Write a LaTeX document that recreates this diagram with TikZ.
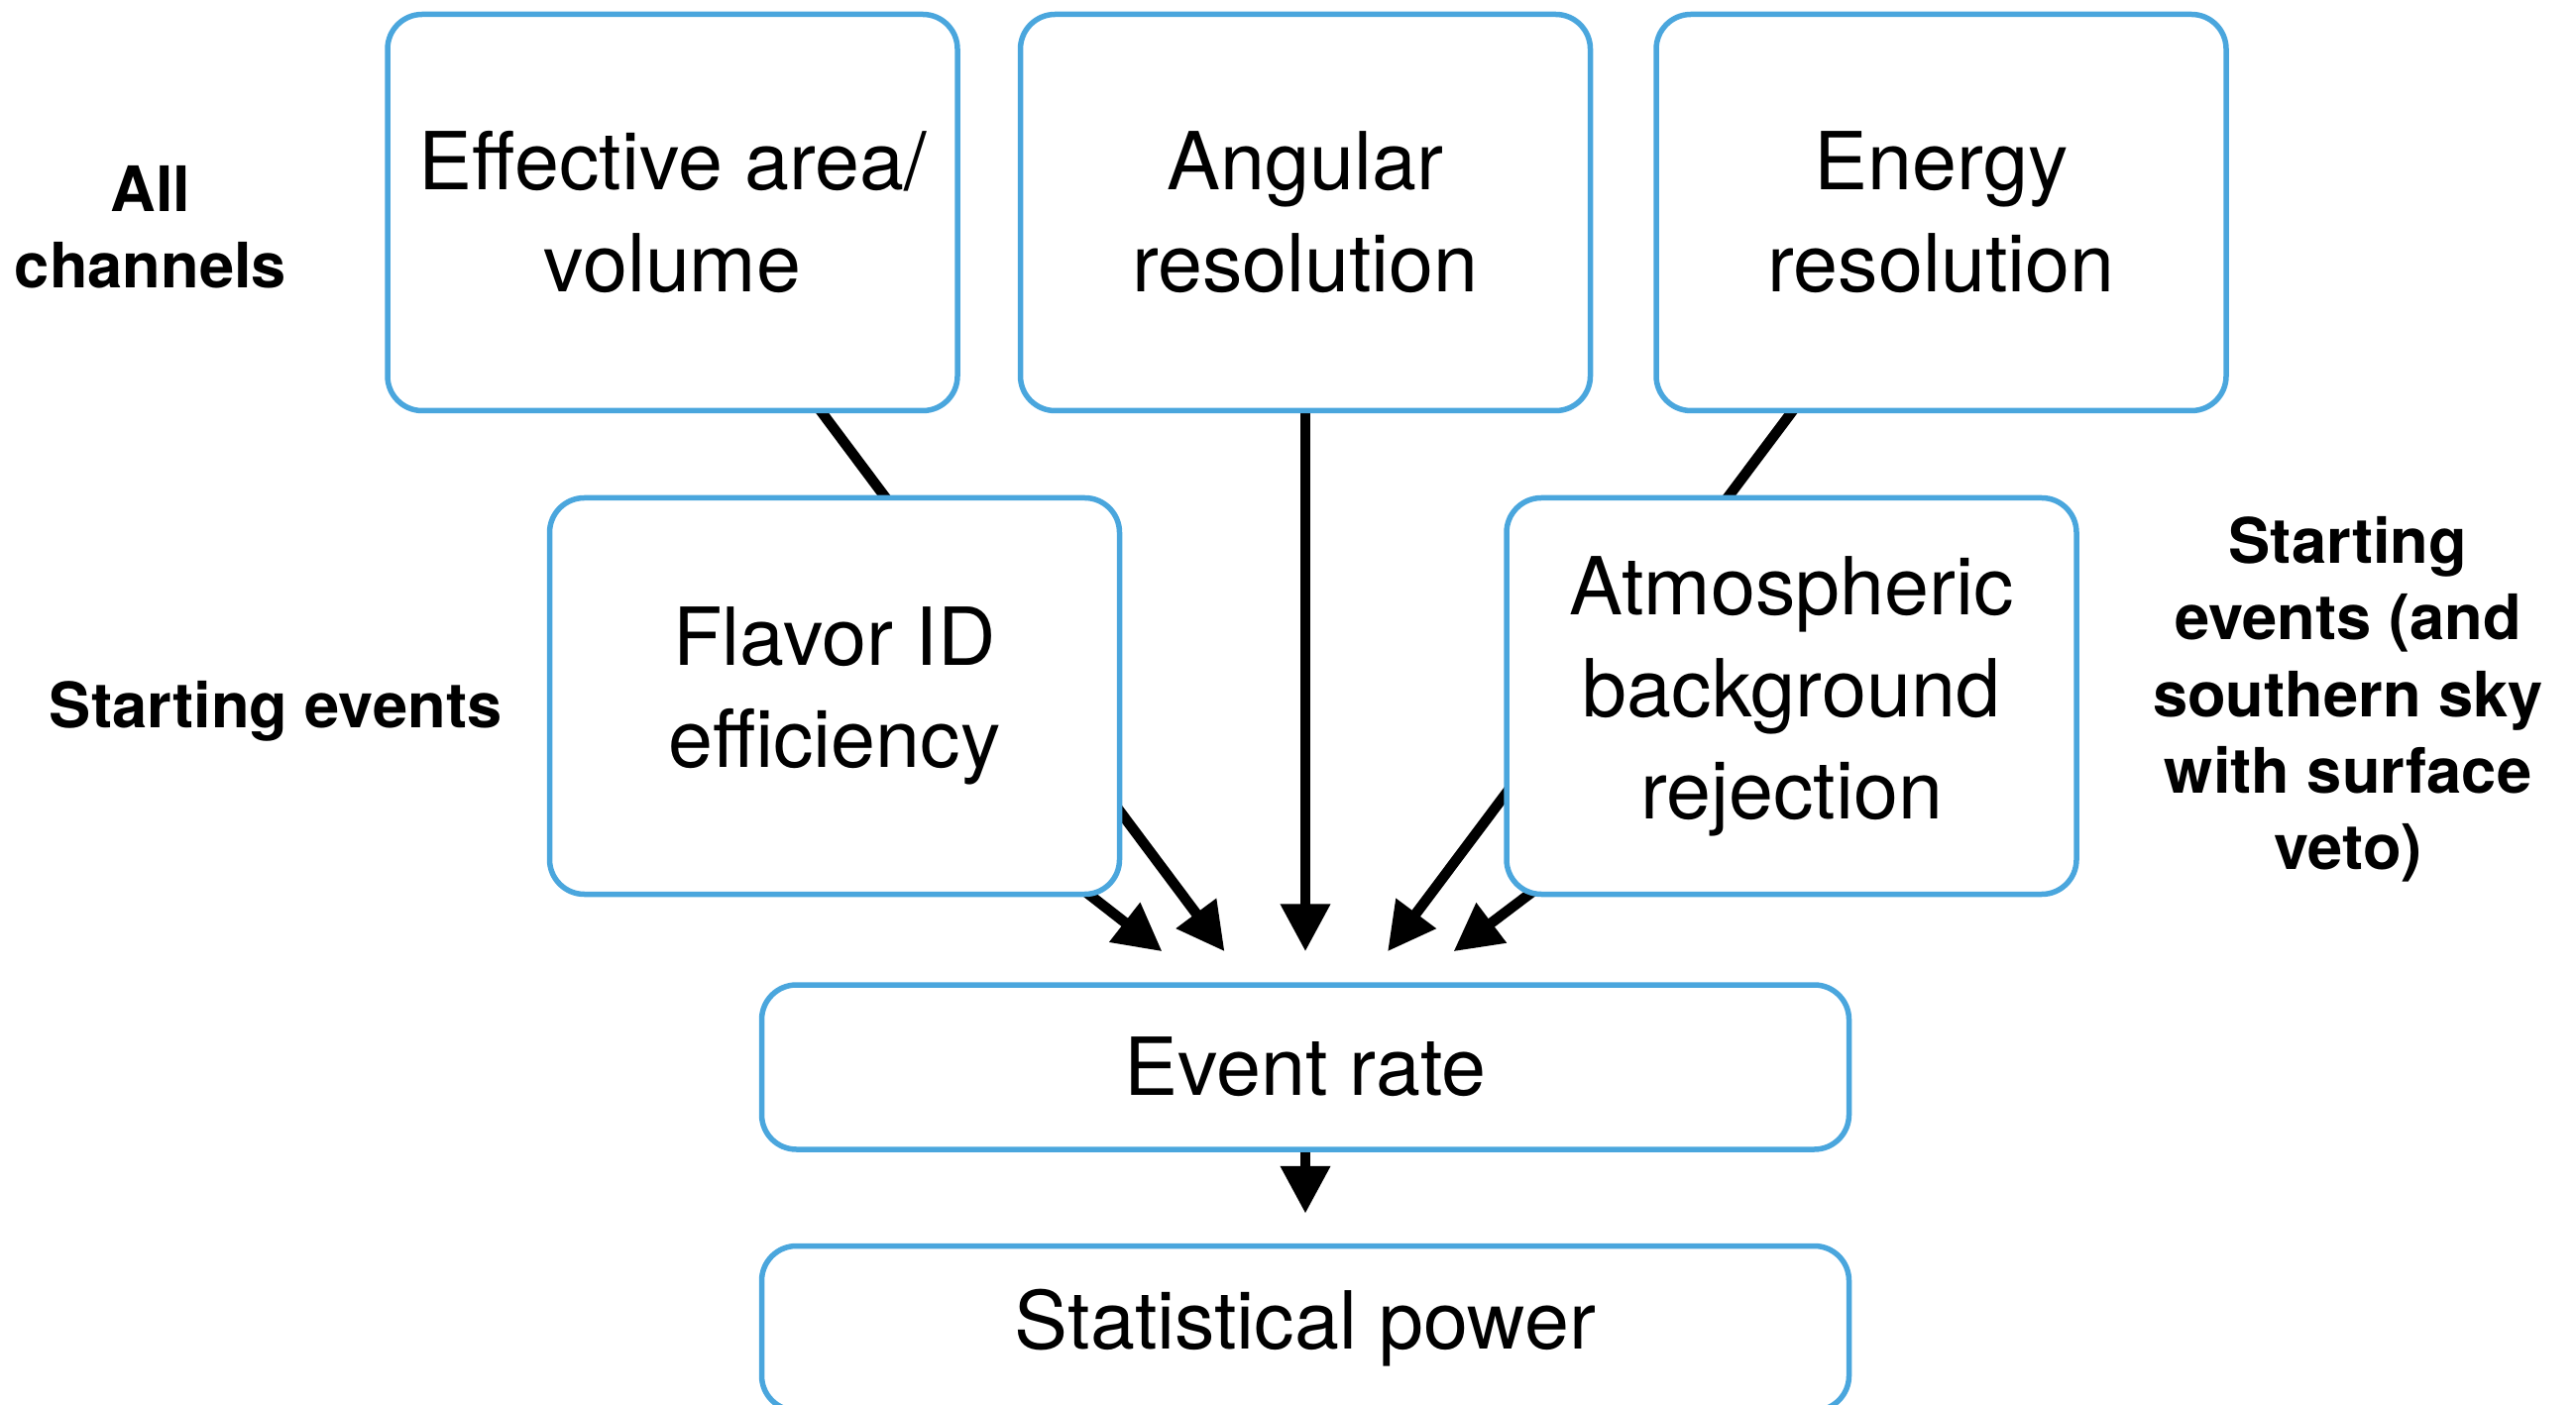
\documentclass[tikz,border=0pt]{standalone}
\usepackage{fontspec}
\setmainfont{TeX Gyre Heros}
\usepackage{tikz}
\usetikzlibrary{arrows.meta, positioning, backgrounds}
\definecolor{boxblue}{RGB}{74,166,221}

\begin{document}
\begin{tikzpicture}[
    node distance=0.65cm,
    factor/.style={rectangle, draw=boxblue, fill=white, line width=0.55mm, minimum width=5.75cm, minimum height=4.0cm, rounded corners=3.5mm, align=center, inner sep=0pt, font=\fontsize{23}{29.3}\selectfont},
    outcome/.style={factor, minimum width=10.97cm, minimum height=1.66cm},
    chan/.style={align=center, font=\fontsize{18}{22}\selectfont\bfseries},
    arr/.style={->, >={Triangle[length=4.8mm, width=4.8mm]}, line width=1.05mm}
]
    \useasboundingbox (0,0) rectangle (25.99,14.17);

    \node (ang) [factor] at (13.17,12.025) {Angular\\resolution};
    \node (eff) [factor, left=0.58cm of ang] {Effective area/\\volume};
    \node (ene) [factor, right=0.61cm of ang] {Energy\\resolution};
    \node (flav) [factor] at (8.42,7.145) {Flavor ID\\efficiency};
    \node (atm) [factor] at (18.075,7.145) {Atmospheric\\background\\rejection};
    \node (rate) [outcome] at (13.17,3.40) {Event rate};
    \node (power) [outcome, below=0.92cm of rate] {Statistical power};

    \node (allch) [chan] at (1.52,11.88) {All\\channels};
    \node (startev) [chan] at (2.78,6.99) {Starting events};
    \node (startveto) [chan] at (23.69,7.11) {Starting\\events (and\\southern sky\\with surface\\veto)};

    % arrow tips stop short of the boxes
    \coordinate (tipeff) at ([xshift=-8.15mm, yshift=3.1mm]rate.north);
    \coordinate (tipflav) at ([xshift=-14.45mm, yshift=3.1mm]rate.north);
    \coordinate (tipang) at ([yshift=3.1mm]rate.north);
    \coordinate (tipene) at ([xshift=8.3mm, yshift=3.1mm]rate.north);
    \coordinate (tipatm) at ([xshift=14.95mm, yshift=3.1mm]rate.north);
    \coordinate (tippow) at ([yshift=3.0mm]power.north);

    \begin{scope}[on background layer]
        \draw[arr] (eff.center) -- (tipeff);
        \draw[arr] (flav.center) -- (tipflav);
        \draw[arr] (ang.center) -- (tipang);
        \draw[arr] (ene.center) -- (tipene);
        \draw[arr] (atm.center) -- (tipatm);
        \draw[arr] (rate.center) -- (tippow);
    \end{scope}
\end{tikzpicture}
\end{document}
